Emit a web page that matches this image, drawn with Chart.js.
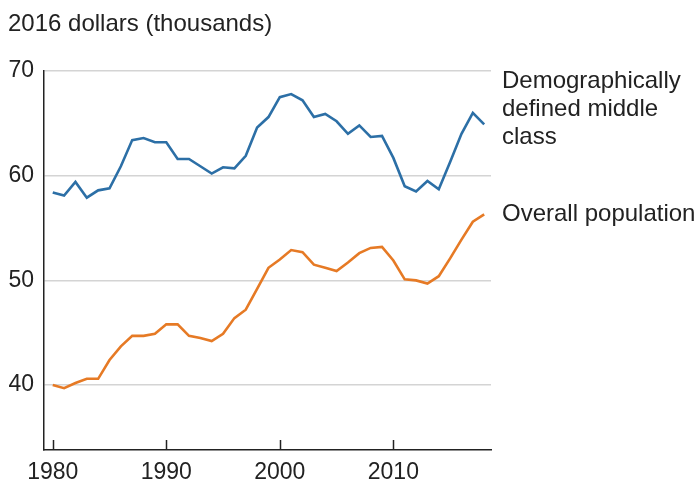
<!DOCTYPE html>
<html>
<head>
<meta charset="utf-8">
<script src="https://cdn.jsdelivr.net/npm/chart.js@4/dist/chart.umd.min.js"></script>
<style>
  html, body { margin: 0; padding: 0; background: #fff; }
  #wrap { width: 695px; height: 485px; }
</style>
</head>
<body>
<div id="wrap"><canvas id="chart" width="695" height="485"></canvas></div>
<script>
// datos
const years = [];
for (let y = 1980; y <= 2018; y++) years.push(y);

const middleClass = [
  58.4, 58.1, 59.4, 57.9, 58.6, 58.8, 60.9, 63.4, 63.6, 63.2,
  63.2, 61.6, 61.6, 60.9, 60.2, 60.8, 60.7, 61.9, 64.6, 65.6,
  67.5, 67.8, 67.2, 65.6, 65.9, 65.2, 64.0, 64.8, 63.7, 63.8,
  61.7, 59.0, 58.5, 59.5, 58.7, 61.3, 64.0, 66.0, 64.9
];

const overall = [
  40.0, 39.7, 40.2, 40.6, 40.6, 42.4, 43.7, 44.7, 44.7, 44.9,
  45.8, 45.8, 44.7, 44.5, 44.2, 44.9, 46.4, 47.2, 49.2, 51.2,
  52.0, 52.9, 52.7, 51.5, 51.2, 50.9, 51.7, 52.6, 53.1, 53.2,
  51.9, 50.1, 50.0, 49.7, 50.4, 52.1, 53.9, 55.6, 56.3
];

const yTicks = [40, 50, 60, 70];
const xTicks = [1980, 1990, 2000, 2010];
const unitLabel = "2016 dollars (thousands)";
const middleLabel = ["Demographically", "defined middle", "class"];
const overallLabel = ["Overall population"];

const FONT = "'Liberation Sans', Arial, sans-serif";
const BLUE = "#2c6fa6";
const ORANGE = "#e67a25";

function toPoints(values) {
  return values.map((v, i) => ({ x: years[i], y: v }));
}

// textos fuera del area del grafico
const textPlugin = {
  id: "textos",
  afterDraw(chart) {
    const ctx = chart.ctx;
    const { chartArea } = chart;
    const xScale = chart.scales.x;
    ctx.save();

    // marcas del eje x hacia adentro
    ctx.strokeStyle = "#222";
    ctx.lineWidth = 1.5;
    xTicks.forEach((t) => {
      const px = Math.round(xScale.getPixelForValue(t)) + 0.5;
      ctx.beginPath();
      ctx.moveTo(px, chartArea.bottom);
      ctx.lineTo(px, chartArea.bottom - 10);
      ctx.stroke();
    });

    ctx.fillStyle = "#222";
    ctx.font = "24px " + FONT;
    ctx.textBaseline = "middle";
    ctx.textAlign = "left";
    ctx.fillText(unitLabel, 8, 24);

    const lx = chartArea.right + 11;
    middleLabel.forEach((s, i) => ctx.fillText(s, lx, 81 + i * 28));
    overallLabel.forEach((s, i) => ctx.fillText(s, lx, 214 + i * 28));
    ctx.restore();
  },
};

const ctx = document.getElementById("chart").getContext("2d");

new Chart(ctx, {
  type: "line",
  data: {
    datasets: [
      {
        label: "Demographically defined middle class",
        data: toPoints(middleClass),
        borderColor: BLUE,
        borderWidth: 2.6,
        pointRadius: 0,
        tension: 0,
        fill: false,
      },
      {
        label: "Overall population",
        data: toPoints(overall),
        borderColor: ORANGE,
        borderWidth: 2.6,
        pointRadius: 0,
        tension: 0,
        fill: false,
      },
    ],
  },
  options: {
    responsive: false,
    animation: false,
    layout: { padding: { top: 71, right: 204, left: 0, bottom: 0 } },
    plugins: {
      legend: { display: false },
      tooltip: { enabled: false },
    },
    scales: {
      x: {
        type: "linear",
        min: 1979.23,
        max: 2018.6,
        afterBuildTicks: (scale) => {
          scale.ticks = xTicks.map((v) => ({ value: v }));
        },
        afterFit: (scale) => {
          scale.height = 35;
        },
        grid: { display: false, drawTicks: false },
        border: { display: true, color: "#222", width: 1.5 },
        ticks: {
          color: "#222",
          font: { family: FONT, size: 23 },
          padding: 9,
          maxRotation: 0,
          callback: (v) => String(v),
        },
      },
      y: {
        type: "linear",
        min: 33.8,
        max: 70,
        afterBuildTicks: (scale) => {
          scale.ticks = yTicks.map((v) => ({ value: v }));
        },
        afterFit: (scale) => {
          scale.width = 44;
        },
        grid: { color: "#d4d4d4", lineWidth: 1.5, drawTicks: false },
        border: { display: true, color: "#222", width: 1.5 },
        ticks: {
          color: "#222",
          font: { family: FONT, size: 23 },
          padding: 10,
        },
      },
    },
  },
  plugins: [textPlugin],
});
</script>
</body>
</html>
